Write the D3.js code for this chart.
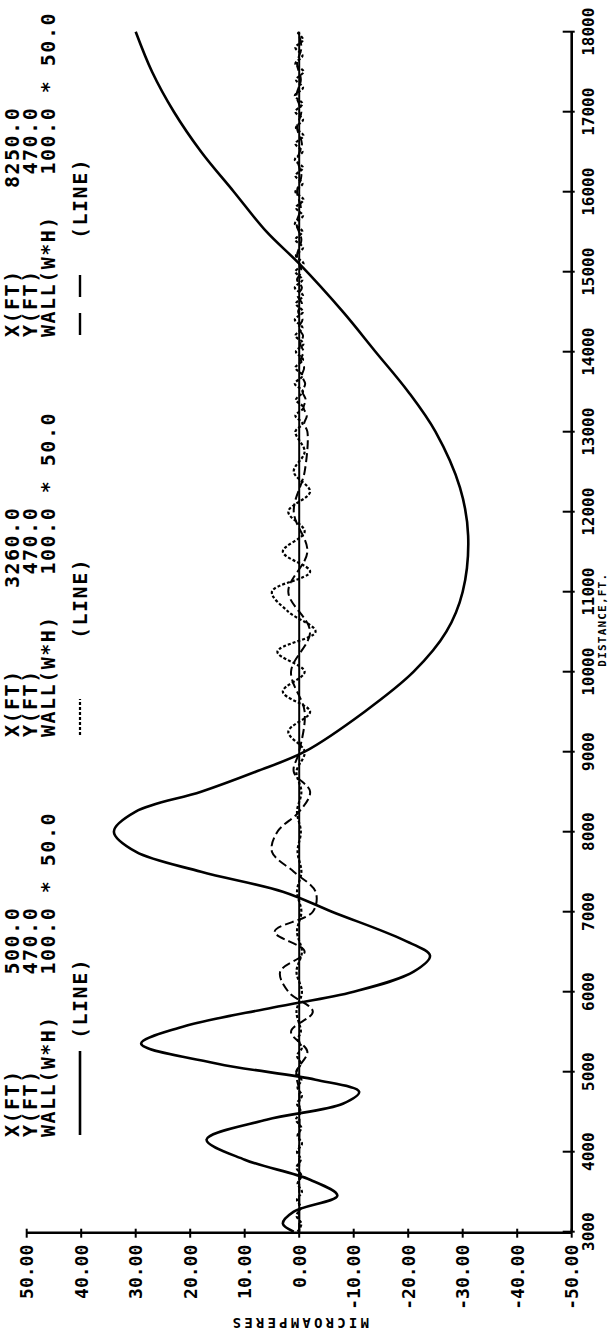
<!DOCTYPE html>
<html><head><meta charset="utf-8">
<script src="https://cdn.jsdelivr.net/npm/d3@7"></script>
<style>body{margin:0;background:#fff}svg{display:block}</style>
</head><body>
<svg id="c" width="616" height="1342"></svg>
<script>
// ---- data ----
const distTicks = [3000,4000,5000,6000,7000,8000,9000,10000,11000,12000,13000,14000,15000,16000,17000,18000];
const distTickLabels = ["3000","4000","5000","6000","7000","8000","9000","10000","11000","12000","13000","14000","15000","16000","17000","18000"];
const valTicks = [50,40,30,20,10,0,-10,-20,-30,-40,-50];
const valTickLabels = ["50.00","40.00","30.00","20.00","10.00","0.00","-10.00","-20.00","-30.00","-40.00","-50.00"];

// X = 500 ft (solid)
const solidDist = [3000,3100,3250,3450,3650,3900,4150,4400,4600,4750,4900,5100,5350,5550,5800,6000,6250,6450,6650,7000,7250,7500,7750,8000,8250,8500,8750,9000,9500,10000,10500,11000,11700,12300,13000,13500,14000,14500,15100,15500,16000,16500,17000,17500,18000];
const solidVal  = [1,3,1,-7,-2,10,17,6,-8,-11,-3,15,29,22,5,-10,-21,-24,-19,-6,3,18,30,34,30,18,8,-1,-12,-21,-27,-30,-31,-29.5,-25,-20,-14,-8,0,6,12,18,23,27,30];

// X = 3260 ft (dotted)
const dotDist = [3000,3100,3200,3300,3400,3500,3600,3700,3800,3900,4000,4100,4200,4300,4400,4500,4600,4700,4800,4900,5000,5100,5200,5300,5400,5500,
  5750,6000,6250,6500,6750,7000,7250,7500,7750,8000,8250,8500,8750,
  9000,9250,9500,9750,10000,10250,10500,10750,11000,11250,11500,11750,12000,12250,12500,12750,13000,
  13100,13200,13300,13400,13500,13600,13700,13800,13900,14000,14100,14200,14300,14400,14500,14600,14700,14800,14900,15000,
  15100,15200,15300,15400,15500,15600,15700,15800,15900,16000,16100,16200,16300,16400,16500,16600,16700,16800,16900,17000,
  17100,17200,17300,17400,17500,17600,17700,17800,17900,18000];
const dotVal = [0.3,-0.4,0.5,-0.3,0.4,-0.5,0.3,-0.4,0.5,-0.3,0.4,-0.5,0.3,-0.4,0.6,-0.3,0.4,-0.5,0.3,-0.4,0.5,-0.3,0.4,-0.5,0.3,-0.3,
  0.5,-0.5,0.5,-0.5,0.4,-0.4,0.4,-0.4,0.3,-0.3,0.4,-0.4,0.5,
  -1,2,-2,3,-1,4,-3,2,5,-2,3,-1,2,-2,1,-1,0.7,
  -0.6,0.7,-0.8,0.6,-0.7,0.8,-0.6,0.7,-0.7,0.6,-0.8,0.7,-0.6,0.8,-0.7,0.6,-0.7,0.8,-0.6,0.7,
  -0.8,0.6,-0.7,0.7,-0.6,0.8,-0.7,0.6,-0.8,0.7,-0.6,0.7,-0.7,0.8,-0.6,0.7,-0.8,0.6,-0.7,0.7,
  -0.6,0.8,-0.7,0.6,-0.8,0.7,-0.6,0.7,-0.7,0.5];

// X = 8250 ft (long dash)
const dashDist = [3000,4000,4750,5000,5250,5500,5750,6000,6250,6500,6750,7000,7250,7500,7750,8000,8250,8500,8750,9000,9500,10000,10500,11000,11500,12000,12500,13000,
  13100,13200,13300,13400,13500,13600,13700,13800,13900,14000,14100,14200,14300,14400,14500,14600,14700,14800,14900,15000,
  15200,15400,15600,15800,16000,16200,16400,16600,16800,17000,17200,17400,17600,17800,18000];
const dashVal  = [0,0,0,0.5,-1.5,1.5,-2.5,2,3.5,-1,4.5,-2.5,-3,1,5,4,0,-2,1,0,-1,1.5,-2,2,-1.5,1,-1,-1.5,
  -0.9,-1.4,-0.8,-1.2,-0.6,-1.1,-0.5,-0.9,-0.3,-0.8,-0.2,-0.7,0.1,-0.6,0.2,-0.5,0.3,-0.5,0.4,-0.4,
  0.4,-0.4,0.5,-0.3,0.4,-0.4,0.3,-0.5,0.4,-0.4,0.5,-0.3,0.4,-0.4,0.2];

const legendXft = ["500.0","3260.0","8250.0"];
const legendYft = ["470.0","470.0","470.0"];
const legendWall = ["100.0","100.0","100.0"];
const legendWall2 = ["50.0","50.0","50.0"];
const legendStyle = ["solid","dot","dash"];

// ---- drawing ----
const svg = d3.select("#c");
const yD = d3.scaleLinear().domain([3000,18000]).range([1231.7,31.7]);
const xV = d3.scaleLinear().domain([50,-50]).range([26.7,571.7]);
const font = "'DejaVu Sans Mono', monospace";

// zero line
svg.append("line").attr("x1",xV(0)).attr("x2",xV(0)).attr("y1",yD(3000)).attr("y2",yD(18000))
  .attr("stroke","#000").attr("stroke-width",2);

const line = d3.line().x(d=>xV(d[1])).y(d=>yD(d[0])).curve(d3.curveCatmullRom.alpha(0.5));
function series(ds, vs, dash, w){
  svg.append("path").datum(ds.map((d,i)=>[d,vs[i]])).attr("d",line)
    .attr("fill","none").attr("stroke","#000").attr("stroke-width",w)
    .attr("stroke-dasharray",dash);
}
series(dotDist, dotVal, "3,2", 2.2);
series(dashDist, dashVal, "9,4", 2);
series(solidDist, solidVal, null, 2.6);

// distance axis (right)
const ax = xV(-50);
svg.append("line").attr("x1",ax).attr("x2",ax).attr("y1",yD(18000)).attr("y2",yD(3000))
  .attr("stroke","#000").attr("stroke-width",2.6);
svg.selectAll(".dt").data(distTicks).enter().append("line")
  .attr("x1",ax-9).attr("x2",ax+3).attr("y1",d=>yD(d)).attr("y2",d=>yD(d))
  .attr("stroke","#000").attr("stroke-width",2);
svg.selectAll(".dl").data(distTicks).enter().append("text")
  .attr("transform",d=>`translate(${ax+22},${yD(d)}) rotate(-90)`)
  .attr("text-anchor","middle").attr("font-family",font).attr("font-weight","bold")
  .attr("font-size",16).text((d,i)=>distTickLabels[i]);
svg.append("text").attr("transform",`translate(${ax+34},${yD(10650)}) rotate(-90)`)
  .attr("text-anchor","middle").attr("font-family",font).attr("font-weight","bold")
  .attr("font-size",11).attr("letter-spacing",1.2).text("DISTANCE,FT.");

// value axis (bottom)
const by = yD(3000)+1;
svg.append("line").attr("x1",xV(50)).attr("x2",xV(-50)).attr("y1",by).attr("y2",by)
  .attr("stroke","#000").attr("stroke-width",2.6);
svg.selectAll(".vt").data(valTicks).enter().append("line")
  .attr("x1",d=>xV(d)).attr("x2",d=>xV(d)).attr("y1",by-4).attr("y2",by+5)
  .attr("stroke","#000").attr("stroke-width",2);
svg.selectAll(".vl").data(valTicks).enter().append("text")
  .attr("transform",d=>`translate(${xV(d)+6.5},${by+12}) rotate(-90)`)
  .attr("text-anchor","end").attr("font-family",font).attr("font-weight","bold")
  .attr("font-size",18).text((d,i)=>valTickLabels[i]);
svg.append("text").attr("transform",`translate(${(xV(50)+xV(-50))/2},1318) rotate(180)`)
  .attr("text-anchor","middle").attr("font-family",font).attr("font-weight","bold")
  .attr("font-size",14).attr("letter-spacing",3.2).text("MICROAMPERES");

// legend
const nb = n => "\u00A0".repeat(n);
const pitch = 14;
legendXft.forEach((xv,i)=>{
  const start = 1137 - 400*i;
  const rows = [
    [18.5, "X(FT)"+nb(12-xv.length)+xv],
    [37, "Y(FT)"+nb(12-legendYft[i].length)+legendYft[i]],
    [55, "WALL(W*H)"+nb(8-legendWall[i].length)+legendWall[i]+nb(1)+"*"+nb(1)+legendWall2[i]]
  ];
  rows.forEach(r=>{
    svg.append("text").attr("transform",`translate(${r[0]},${start}) rotate(-90)`)
      .attr("font-family",font).attr("font-weight","bold").attr("font-size",20)
      .attr("letter-spacing",1.5).text(r[1]);
  });
  svg.append("text").attr("transform",`translate(87,${start-pitch*7}) rotate(-90)`)
    .attr("font-family",font).attr("font-weight","bold").attr("font-size",20)
    .attr("letter-spacing",1.5).text("(LINE)");
  const lx = 80;
  if(legendStyle[i]==="solid"){
    svg.append("line").attr("x1",lx).attr("x2",lx).attr("y1",start-2).attr("y2",start-86)
      .attr("stroke","#000").attr("stroke-width",2.6);
  } else if(legendStyle[i]==="dot"){
    svg.append("line").attr("x1",lx).attr("x2",lx).attr("y1",start-2).attr("y2",start-38)
      .attr("stroke","#000").attr("stroke-width",2.2).attr("stroke-dasharray","3,2");
  } else {
    svg.append("line").attr("x1",lx).attr("x2",lx).attr("y1",start-2).attr("y2",start-62)
      .attr("stroke","#000").attr("stroke-width",2.4).attr("stroke-dasharray","22,16");
  }
});
</script>
</body></html>
